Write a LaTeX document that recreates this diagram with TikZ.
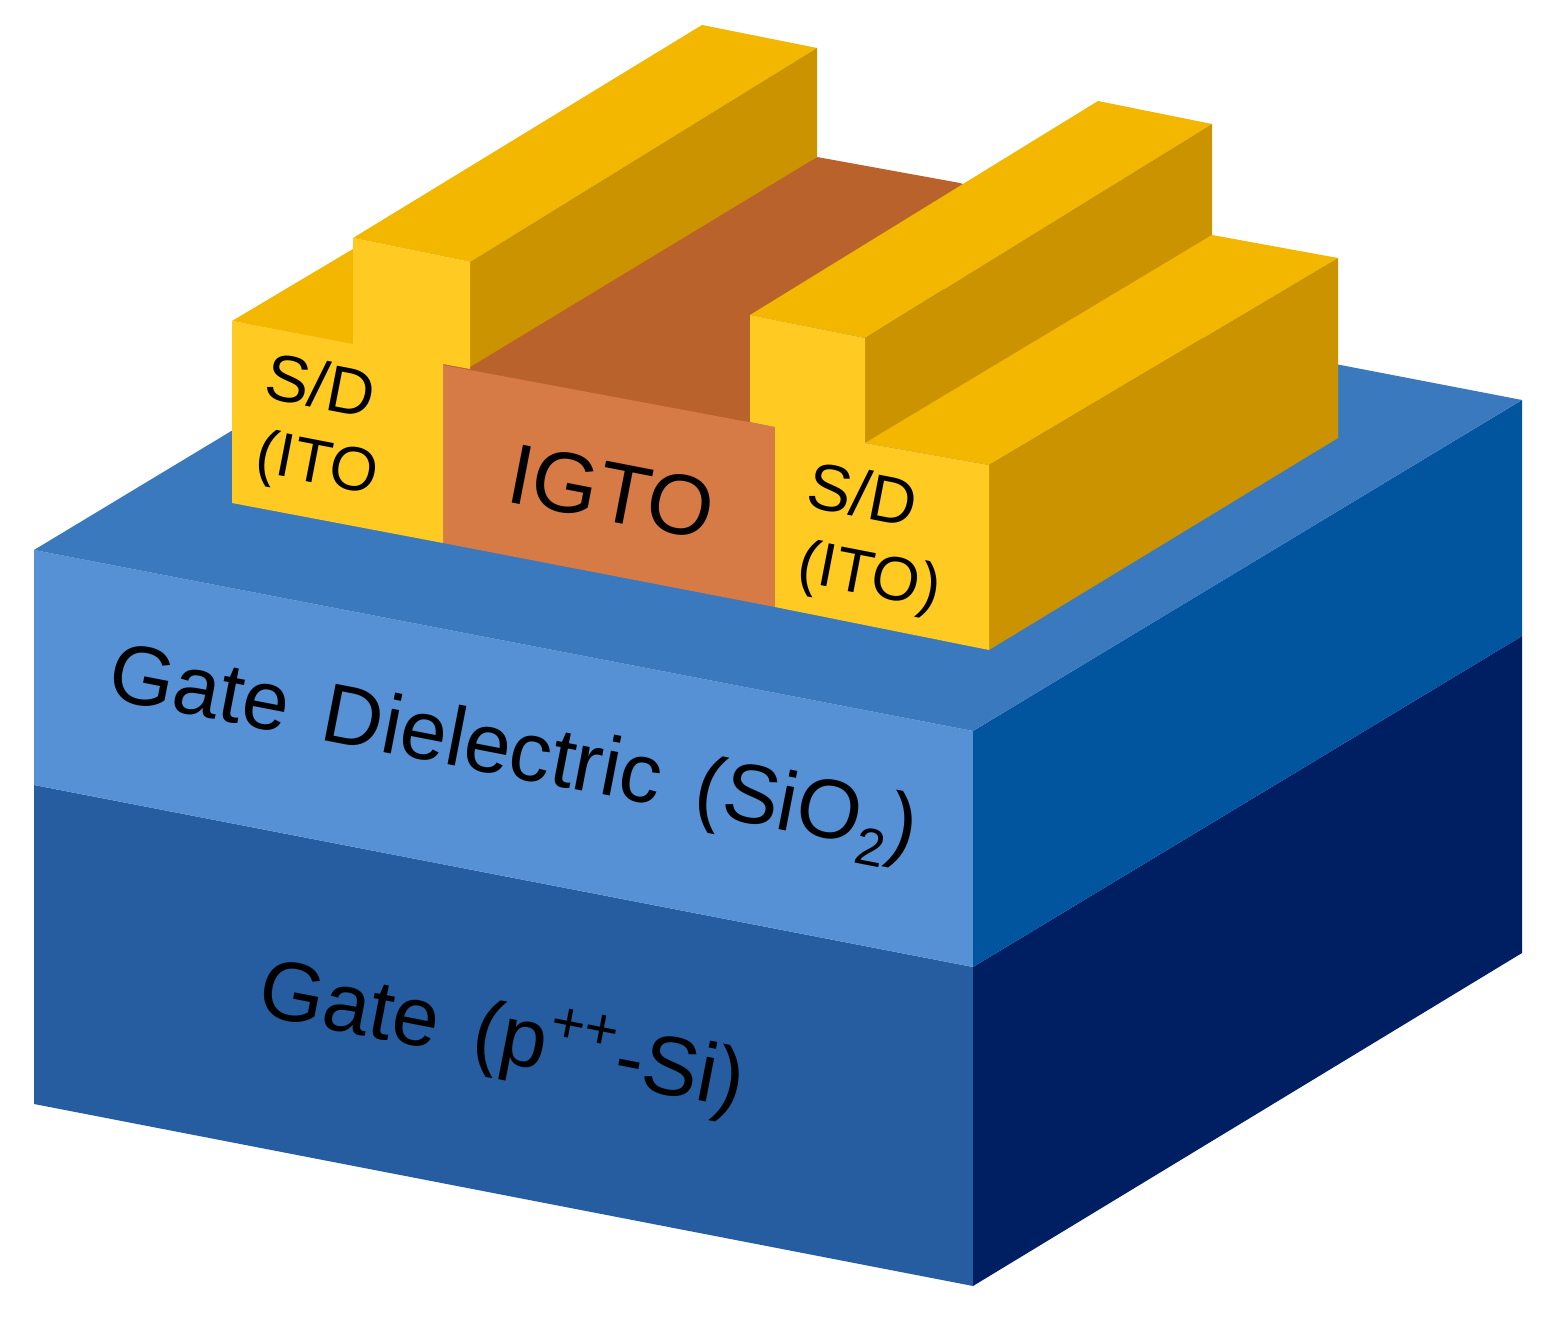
\documentclass[tikz,border=0pt]{standalone}
\usepackage{fontspec}
\setmainfont{Liberation Sans}
\tikzset{
  face/.style={draw=none},
  lab/.style={inner sep=0pt,text=black,rotate=-11,anchor=center},
}
\definecolor{gatefront}{HTML}{265DA1}
\definecolor{gateside}{HTML}{001F63}
\definecolor{difront}{HTML}{5691D6}
\definecolor{diside}{HTML}{00559E}
\definecolor{ditop}{HTML}{3B79BF}
\definecolor{golda}{HTML}{FFCB22}
\definecolor{goldb}{HTML}{F4B700}
\definecolor{goldc}{HTML}{CC9300}
\definecolor{igfront}{HTML}{D67B45}
\definecolor{igtop}{HTML}{BA622C}
\newcommand{\fs}[1]{\fontsize{#1}{#1}\selectfont}
\begin{document}
\begin{tikzpicture}[x=0.01cm,y=-0.01cm]
\useasboundingbox (0,0) rectangle (1554,1322);
\fill[white] (0,0) rectangle (1554,1322);
% substrate
\fill[face,gatefront] (34,785) -- (973,967) -- (973,1286) -- (34,1104) -- cycle;
\fill[face,gateside] (973,967) -- (1522,636) -- (1522,953) -- (973,1286) -- cycle;
\fill[face,difront] (34,550) -- (973,731) -- (973,967) -- (34,785) -- cycle;
\fill[face,diside] (973,731) -- (1522,400) -- (1522,636) -- (973,967) -- cycle;
\fill[face,ditop] (34,550) -- (583,219) -- (1522,400) -- (973,731) -- cycle;
% channel
\fill[face,igtop] (443,365) -- (817,157) -- (960,183) -- (990,195) -- (780,330) -- (760,425) -- cycle;
\fill[face,igfront] (443,365) -- (775,427) -- (775,607) -- (443,543) -- cycle;
% left S/D
\fill[face,goldb] (232,321) -- (353,249) -- (353,345) -- cycle;
\fill[face,goldb] (353,238) -- (702,25) -- (817,48) -- (470,262) -- cycle;
\fill[face,goldc] (470,262) -- (817,48) -- (817,157) -- (470,367) -- cycle;
\fill[face,golda] (232,321) -- (353,344) -- (353,238) -- (470,262) -- (470,369) -- (443,364) -- (443,543) -- (232,503) -- cycle;
% right S/D
\fill[face,goldb] (750,315) -- (1098,101) -- (1212,124) -- (865,338) -- cycle;
\fill[face,goldc] (865,338) -- (1212,124) -- (1212,235) -- (1100,310) -- (865,443) -- cycle;
\fill[face,goldb] (865,443) -- (1212,235) -- (1338,258) -- (989,465) -- cycle;
\fill[face,goldc] (989,465) -- (1338,258) -- (1338,438) -- (989,650) -- cycle;
\fill[face,golda] (750,315) -- (865,338) -- (865,443) -- (989,465) -- (989,650) -- (775,607) -- (775,427) -- (750,422) -- cycle;
% labels
\node[lab] (sdla) at (321,385) {\fs{18.7}S/D};
\node[lab] (sdlb) at (317,467) {\fs{17.6}(ITO};
\node[lab] (sdra) at (863,494) {\fs{18.7}S/D};
\node[lab] (sdrb) at (869,579) {\fs{17.6}(ITO)};
\node[lab] (igto) at (612,492) {\fs{24.3}IGTO};
\node[lab] (diel) at (513,756) {\fs{23.8}Gate\hspace{0.15em} Dielectric\hspace{0.15em} (SiO\raisebox{-0.22em}{\fs{15}2})};
\node[lab] (gate) at (502,1038) {\fs{23.8}Gate\hspace{0.15em} (p\textsuperscript{++}-Si)};
\end{tikzpicture}
\end{document}
